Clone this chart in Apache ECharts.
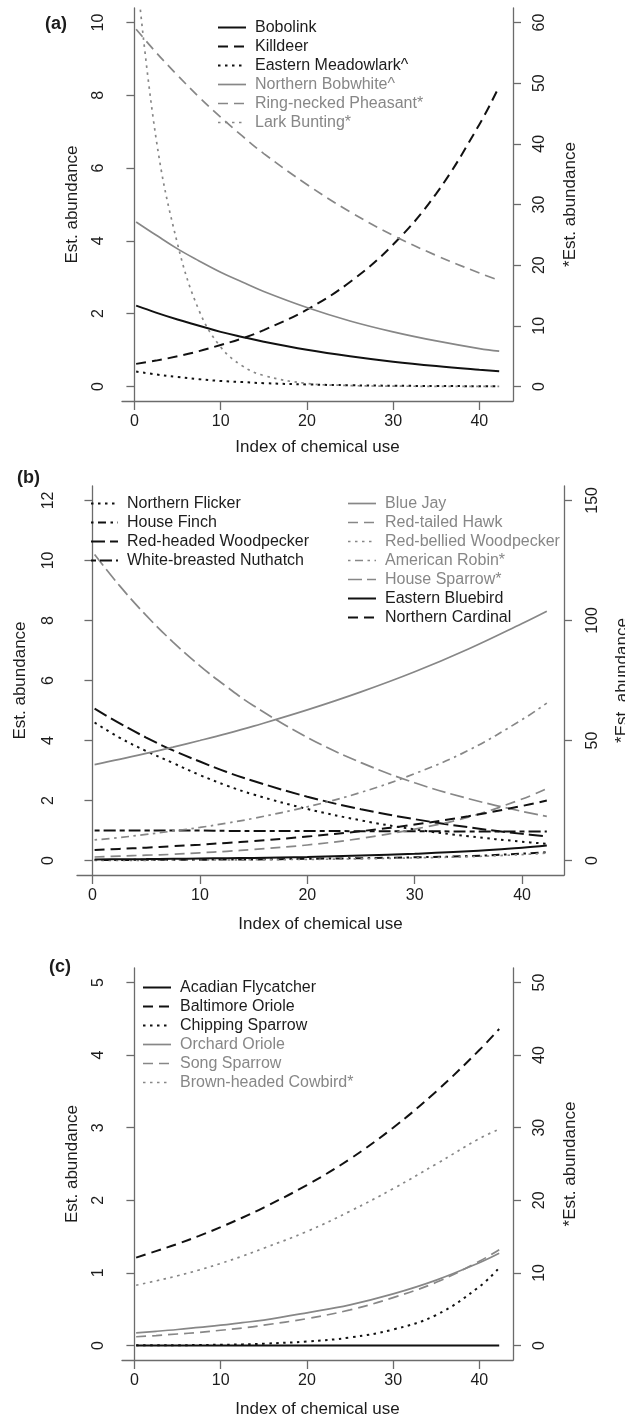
<!DOCTYPE html>
<html>
<head>
<meta charset="utf-8">
<script src="https://cdn.jsdelivr.net/npm/echarts@6/dist/echarts.min.js"></script>
<style>
html, body { margin: 0; padding: 0; background: #fff; }
#chart { width: 625px; height: 1420px; }
</style>
</head>
<body>
<div id="chart"></div>
<script>
// index of chemical use at which each curve was read
var xIndex = [0.2, 2.5, 5, 7.5, 10, 12.5, 15, 20, 25, 30, 35, 40, 42.3];
var xTicks = [0, 10, 20, 30, 40];

// (a)  left axis 0-10, starred species on right axis 0-60
var bobolink    = [2.22, 2.03, 1.84, 1.67, 1.50, 1.36, 1.23, 1.01, 0.83, 0.68, 0.56, 0.46, 0.42];
var killdeer    = [0.62, 0.71, 0.83, 0.97, 1.14, 1.32, 1.55, 2.11, 2.87, 3.90, 5.30, 7.20, 8.25];
var meadowlark  = [0.41, 0.33, 0.26, 0.20, 0.15, 0.12, 0.09, 0.055, 0.033, 0.02, 0.012, 0.007, 0.005];
var bobwhite    = [4.52, 4.16, 3.78, 3.45, 3.14, 2.87, 2.61, 2.17, 1.80, 1.50, 1.25, 1.04, 0.97];
var pheasant    = [58.9, 55.1, 51.3, 47.7, 44.4, 41.3, 38.4, 33.3, 28.8, 24.9, 21.6, 18.7, 17.5];
var larkBunting = [69, 41, 23.5, 12.5, 6.5, 3.4, 1.8, 0.5, 0.15, 0.05, 0.02, 0.01, 0.01];
var ticksA = [0, 2, 4, 6, 8, 10];
var ticksA2 = [0, 10, 20, 30, 40, 50, 60];

// (b)  left axis 0-12, starred species on right axis 0-150
var flicker     = [4.60, 4.10, 3.65, 3.25, 2.85, 2.50, 2.20, 1.72, 1.34, 1.04, 0.81, 0.63, 0.56];
var houseFinch  = [0.02, 0.02, 0.03, 0.03, 0.03, 0.04, 0.04, 0.06, 0.08, 0.11, 0.15, 0.23, 0.28];
var redHeaded   = [5.06, 4.58, 4.10, 3.67, 3.30, 2.95, 2.65, 2.13, 1.71, 1.38, 1.11, 0.89, 0.81];
var nuthatch    = [1.00, 1.00, 1.00, 1.00, 1.00, 0.99, 0.99, 0.99, 0.98, 0.98, 0.97, 0.97, 0.97];
var blueJay     = [3.20, 3.37, 3.57, 3.78, 4.00, 4.23, 4.48, 5.02, 5.62, 6.29, 7.05, 7.90, 8.31];
var redTailed   = [0.12, 0.15, 0.18, 0.21, 0.26, 0.31, 0.37, 0.52, 0.74, 1.05, 1.45, 2.05, 2.40];
var redBellied  = [0.01, 0.01, 0.01, 0.02, 0.02, 0.02, 0.03, 0.04, 0.06, 0.09, 0.13, 0.20, 0.25];
var robin       = [8.6, 9.6, 10.9, 12.3, 13.8, 15.6, 17.6, 22.4, 28.4, 36.2, 45.9, 58.7, 65.6];
var houseSparrow= [127.5, 114.6, 102.1, 91.0, 81.1, 72.4, 64.5, 51.3, 40.8, 32.4, 25.8, 20.5, 18.4];
var bluebird    = [0.04, 0.045, 0.05, 0.06, 0.07, 0.08, 0.09, 0.12, 0.17, 0.23, 0.31, 0.43, 0.50];
var cardinal    = [0.35, 0.39, 0.43, 0.48, 0.53, 0.59, 0.65, 0.80, 0.98, 1.20, 1.48, 1.82, 2.00];
var ticksB = [0, 2, 4, 6, 8, 10, 12];
var ticksB2 = [0, 50, 100, 150];

// (c)  left axis 0-5, starred species on right axis 0-50
var flycatcher  = [0, 0, 0, 0, 0, 0, 0, 0, 0, 0, 0, 0, 0];
var baltimore   = [1.21, 1.30, 1.40, 1.51, 1.63, 1.76, 1.90, 2.21, 2.57, 3.00, 3.50, 4.07, 4.36];
var chipping    = [0.002, 0.003, 0.004, 0.006, 0.01, 0.015, 0.025, 0.055, 0.11, 0.22, 0.42, 0.81, 1.07];
var orchard     = [0.175, 0.195, 0.22, 0.25, 0.28, 0.315, 0.35, 0.45, 0.56, 0.71, 0.90, 1.14, 1.27];
var songSparrow = [0.12, 0.137, 0.158, 0.18, 0.21, 0.24, 0.28, 0.37, 0.49, 0.66, 0.87, 1.16, 1.32];
var cowbird     = [8.3, 8.9, 9.6, 10.4, 11.3, 12.3, 13.4, 15.7, 18.5, 21.6, 25.0, 28.5, 29.8];
var ticksC = [0, 1, 2, 3, 4, 5];
var ticksC2 = [0, 10, 20, 30, 40, 50];

var BLACK = '#111111', GRAY = '#878787', AXIS = '#6b6b6b', TEXT = '#1c1c1c';
var FONT = 'Liberation Sans, Arial, sans-serif';
var SOLID = 'solid', DASHED = [10, 6], DOTTED = [2.5, 4.5], LONGDASH = [14, 5],
    DOTDASH = [2.5, 4.5, 8, 4.5], TWODASH = [5, 4, 12, 4];

// name, values, colour, dash, right axis?
var panelA = [
  ['Bobolink', bobolink, BLACK, SOLID, 0],
  ['Killdeer', killdeer, BLACK, DASHED, 0],
  ['Eastern Meadowlark^', meadowlark, BLACK, DOTTED, 0],
  ['Northern Bobwhite^', bobwhite, GRAY, SOLID, 0],
  ['Ring-necked Pheasant*', pheasant, GRAY, DASHED, 1],
  ['Lark Bunting*', larkBunting, GRAY, DOTTED, 1]
];
var panelB1 = [
  ['Northern Flicker', flicker, BLACK, DOTTED, 0],
  ['House Finch', houseFinch, BLACK, DOTDASH, 0],
  ['Red-headed Woodpecker', redHeaded, BLACK, LONGDASH, 0],
  ['White-breasted Nuthatch', nuthatch, BLACK, TWODASH, 0]
];
var panelB2 = [
  ['Blue Jay', blueJay, GRAY, SOLID, 0],
  ['Red-tailed Hawk', redTailed, GRAY, DASHED, 0],
  ['Red-bellied Woodpecker', redBellied, GRAY, DOTTED, 0],
  ['American Robin*', robin, GRAY, DOTDASH, 1],
  ['House Sparrow*', houseSparrow, GRAY, LONGDASH, 1],
  ['Eastern Bluebird', bluebird, BLACK, SOLID, 0],
  ['Northern Cardinal', cardinal, BLACK, DASHED, 0]
];
var panelC = [
  ['Acadian Flycatcher', flycatcher, BLACK, SOLID, 0],
  ['Baltimore Oriole', baltimore, BLACK, DASHED, 0],
  ['Chipping Sparrow', chipping, BLACK, DOTTED, 0],
  ['Orchard Oriole', orchard, GRAY, SOLID, 0],
  ['Song Sparrow', songSparrow, GRAY, DASHED, 0],
  ['Brown-headed Cowbird*', cowbird, GRAY, DOTTED, 1]
];

var series = [];
function addSeries(list, gridIdx) {
  list.forEach(function (s) {
    series.push({
      name: s[0],
      type: 'line',
      xAxisIndex: gridIdx,
      yAxisIndex: gridIdx * 2 + s[4],
      data: xIndex.map(function (x, i) { return [x, s[1][i]]; }),
      smooth: 0.4,
      showSymbol: false,
      symbol: 'none',
      silent: true,
      clip: true,
      lineStyle: { color: s[2], width: s[2] === BLACK ? 2 : 1.7, type: s[3] }
    });
  });
}
addSeries(panelA, 0);
addSeries(panelB1, 1);
addSeries(panelB2, 1);
addSeries(panelC, 2);

function makeLegend(list, left, top, iconW) {
  return {
    orient: 'vertical',
    left: left,
    top: top,
    padding: 0,
    itemGap: 0,
    itemWidth: iconW,
    itemHeight: 19,
    selectedMode: false,
    itemStyle: { opacity: 0 },
    textStyle: { fontFamily: FONT, fontSize: 16, lineHeight: 19, padding: [0, 0, 0, 4] },
    data: list.map(function (s) {
      return {
        name: s[0],
        lineStyle: { color: s[2], width: s[2] === BLACK ? 2 : 1.7, type: s[3] },
        textStyle: { color: s[2] === BLACK ? TEXT : GRAY }
      };
    })
  };
}

var grids = [
  { left: 122, top: 8, width: 391, height: 393, outerBoundsMode: 'none' },
  { left: 77, top: 486, width: 487, height: 389, outerBoundsMode: 'none' },
  { left: 122, top: 968, width: 391, height: 392, outerBoundsMode: 'none' }
];

var lineStyleAxis = { show: true, lineStyle: { color: AXIS, width: 1.3 } };
var xAxes = grids.map(function (g, i) {
  return {
    type: 'value', gridIndex: i, min: -1.44, max: 43.9,
    name: 'Index of chemical use', nameLocation: 'middle', nameGap: i === 0 ? 38 : 41,
    nameTextStyle: { fontFamily: FONT, fontSize: 17, color: TEXT },
    axisLine: { show: true, onZero: false, lineStyle: { color: AXIS, width: 1.3 } },
    axisTick: { show: true, length: 9, customValues: xTicks, lineStyle: { color: AXIS, width: 1.3 } },
    axisLabel: { customValues: xTicks, margin: 13, fontFamily: FONT, fontSize: 16, color: TEXT },
    splitLine: { show: false }
  };
});

function yAxis(gi, pos, min, max, ticks, name, gap, labelMargin) {
  return {
    type: 'value', gridIndex: gi, position: pos, min: min, max: max,
    name: name, nameLocation: 'middle', nameGap: gap,
    nameTextStyle: { fontFamily: FONT, fontSize: 17, color: TEXT },
    axisLine: lineStyleAxis,
    axisTick: { show: true, length: 8, customValues: ticks, lineStyle: { color: AXIS, width: 1.3 } },
    axisLabel: { customValues: ticks, rotate: 90, margin: labelMargin, fontFamily: FONT, fontSize: 16, color: TEXT },
    splitLine: { show: false }
  };
}

var yAxes = [
  yAxis(0, 'left', -0.4, 10.4, ticksA, 'Est. abundance', 41, 15),
  yAxis(0, 'right', -2.4, 62.4, ticksA2, '*Est. abundance', 49, 19),
  yAxis(1, 'left', -0.48, 12.48, ticksB, 'Est. abundance', 48, 20),
  yAxis(1, 'right', -6, 156, ticksB2, '*Est. abundance', 50, 21),
  yAxis(2, 'left', -0.2, 5.2, ticksC, 'Est. abundance', 41, 15),
  yAxis(2, 'right', -2, 52, ticksC2, '*Est. abundance', 49, 19)
];

var panelTitle = function (text, left, top) {
  return { text: text, left: left, top: top, padding: 0,
    textStyle: { fontFamily: FONT, fontSize: 18, fontWeight: 'bold', color: TEXT } };
};

var chart = echarts.init(document.getElementById('chart'), null, { renderer: 'canvas' });
chart.setOption({
  animation: false,
  backgroundColor: '#ffffff',
  title: [panelTitle('(a)', 45, 15), panelTitle('(b)', 17, 469), panelTitle('(c)', 49, 958)],
  legend: [
    makeLegend(panelA, 217, 18, 28),
    makeLegend(panelB1, 90, 494, 27),
    makeLegend(panelB2, 347, 494, 28),
    makeLegend(panelC, 142, 978, 28)
  ],
  grid: grids,
  xAxis: xAxes,
  yAxis: yAxes,
  series: series
});
</script>
</body>
</html>
